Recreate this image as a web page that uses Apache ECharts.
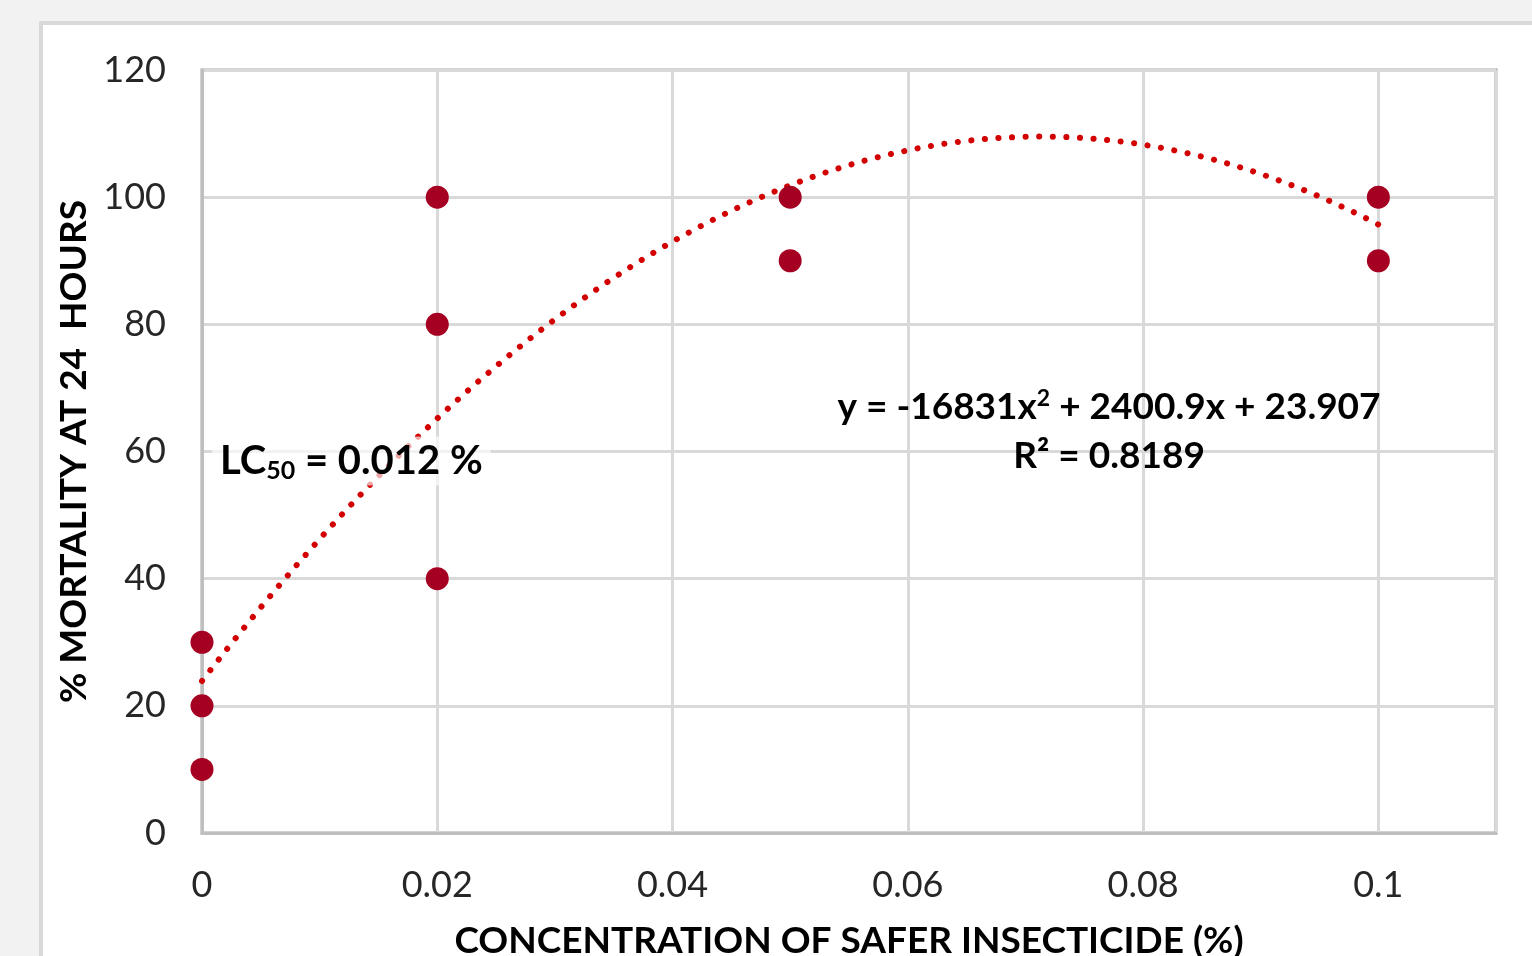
<!DOCTYPE html>
<html>
<head>
<meta charset="utf-8">
<script src="https://cdn.jsdelivr.net/npm/echarts@6/dist/echarts.min.js"></script>
<style>
  html, body { margin: 0; padding: 0; background: #f2f2f2; overflow: hidden; }
  #chart { width: 1532px; height: 956px; }
</style>
</head>
<body>
<div id="chart"></div>
<script>
// measured points (concentration %, mortality %)
const concX = [0, 0, 0, 0.02, 0.02, 0.02, 0.05, 0.05, 0.1, 0.1]
const mortY = [10, 20, 30, 40, 80, 100, 90, 100, 90, 100]
// polynomial trendline shown on the chart: y = a x^2 + b x + c
const trendCoef = [-16831, 2400.9, 23.907]
const trendRange = [0, 0.1]
const xTicks = [0, 0.02, 0.04, 0.06, 0.08, 0.1]
const yTicks = [0, 20, 40, 60, 80, 100, 120]

const points = concX.map((x, i) => [x, mortY[i]])
const trendPts = []
for (let k = 0; k <= 100; k++) {
  const x = trendRange[0] + (trendRange[1] - trendRange[0]) * k / 100
  trendPts.push([x, trendCoef[0] * x * x + trendCoef[1] * x + trendCoef[2]])
}

const tickFont = { fontFamily: 'Lato', fontSize: 36, color: '#262626' }
const titleFont = { fontFamily: 'Lato', fontWeight: 'bold', fontSize: 37, color: '#000' }

const chart = echarts.init(document.getElementById('chart'))
chart.setOption({
  animation: false,
  backgroundColor: 'transparent',
  grid: {
    left: 202, top: 70, right: 36, bottom: 123,
    outerBoundsMode: 'none', containLabel: false,
    show: true, borderColor: '#a6a6a6', borderWidth: 3
  },
  xAxis: {
    type: 'value', min: 0, max: 0.11, interval: 0.02,
    axisLine: { show: true, lineStyle: { color: '#bfbfbf', width: 3 } },
    axisTick: { show: false },
    splitLine: { show: true, lineStyle: { color: '#d9d9d9', width: 3 } },
    axisLabel: Object.assign({ margin: 34, showMaxLabel: false,
      formatter: v => xTicks.indexOf(+v.toFixed(2)) >= 0 ? String(+v.toFixed(2)) : '' }, tickFont),
    name: 'CONCENTRATION OF SAFER INSECTICIDE (%)',
    nameLocation: 'middle', nameGap: 90, nameTextStyle: titleFont
  },
  yAxis: {
    type: 'value', min: 0, max: 120, interval: 20,
    axisLine: { show: true, lineStyle: { color: '#bfbfbf', width: 3 } },
    axisTick: { show: false },
    splitLine: { show: true, lineStyle: { color: '#d9d9d9', width: 3 } },
    axisLabel: Object.assign({ margin: 36 }, tickFont),
    name: '% MORTALITY AT 24  HOURS',
    nameLocation: 'middle', nameGap: 108, nameTextStyle: titleFont
  },
  graphic: [
    {
      type: 'rect', z: -100, silent: true,
      shape: { x: 41, y: 23, width: 1600, height: 1000 },
      style: { fill: '#ffffff', stroke: '#d9d9d9', lineWidth: 4 }
    },
    {
      type: 'text', z: 100, x: 212, y: 461,
      style: {
        text: 'LC{sub|50} = 0.012 %',
        font: 'bold 40px Lato', fill: '#000',
        textVerticalAlign: 'middle',
        backgroundColor: 'rgba(255,255,255,0.65)', padding: [2, 8, 2, 8],
        rich: {
          sub: { font: 'bold 25px Lato', fill: '#000', verticalAlign: 'bottom', padding: [20, 0, 0, 0] }
        }
      }
    },
    {
      type: 'text', z: 100, x: 1109, y: 407,
      style: {
        text: 'y = -16831x{sup|2} + 2400.9x + 23.907',
        font: 'bold 37px Lato', fill: '#000',
        textAlign: 'center', textVerticalAlign: 'middle',
        rich: {
          sup: { font: 'bold 23px Lato', fill: '#000', verticalAlign: 'top', padding: [0, 0, 16, 0] }
        }
      }
    },
    {
      type: 'text', z: 100, x: 1109, y: 456,
      style: { text: 'R² = 0.8189', font: 'bold 37px Lato', fill: '#000',
        textAlign: 'center', textVerticalAlign: 'middle' }
    }
  ],
  series: [
    {
      type: 'line', data: trendPts, showSymbol: false, z: 2,
      lineStyle: { color: '#d20000', width: 6, type: [0.1, 13.5], cap: 'round' }
    },
    {
      type: 'scatter', data: points, symbolSize: 23, z: 3,
      itemStyle: { color: '#a50021', opacity: 1 }
    }
  ]
})
</script>
</body>
</html>
